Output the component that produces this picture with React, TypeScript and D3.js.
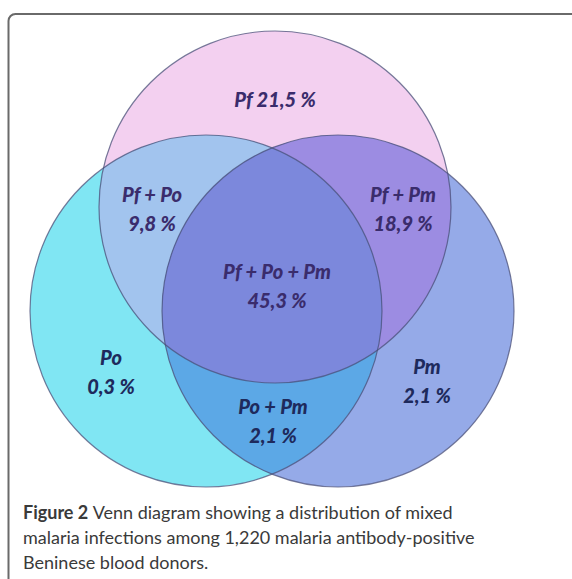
import React, { useEffect, useRef } from "react";
import * as d3 from "d3";

// Sets and regions of the Venn diagram
const setNames = ["Pf", "Po", "Pm"];
const regionSets: string[][] = [
  ["Pf"],
  ["Po"],
  ["Pm"],
  ["Pf", "Po"],
  ["Pf", "Pm"],
  ["Po", "Pm"],
  ["Pf", "Po", "Pm"],
];
const regionValues = [21.5, 0.3, 2.1, 9.8, 18.9, 2.1, 45.3];
const regionColors = [
  "#f3d0f0",
  "#80e6f3",
  "#95aae8",
  "#a2c4ee",
  "#9c8ce2",
  "#5ca8e6",
  "#7c88dc",
];
const captionLines = [
  "Venn diagram showing a distribution of mixed",
  "malaria infections among 1,220 malaria antibody-positive",
  "Beninese blood donors.",
];

// Layout (pixels)
const W = 572;
const H = 579;
const circleLayout: Record<string, { cx: number; cy: number }> = {
  Pf: { cx: 275, cy: 207 },
  Po: { cx: 206, cy: 311 },
  Pm: { cx: 338, cy: 311 },
};
const R = 176;
// label anchor (baseline of first line) for each region, same order as regionSets
const labelLayout = [
  { x: 275, y: 107, oneLine: true },
  { x: 111, y: 365 },
  { x: 427, y: 374 },
  { x: 152, y: 202 },
  { x: 403, y: 202 },
  { x: 273, y: 414 },
  { x: 277, y: 279 },
];

const fmt = (v: number) => d3.format(".1f")(v).replace(".", ",") + " %";

export default function App() {
  const svgRef = useRef<SVGSVGElement>(null);

  useEffect(() => {
    const svg = d3.select(svgRef.current).attr("width", W).attr("height", H);
    svg.selectAll("*").remove();

    svg.append("rect").attr("width", W).attr("height", H).attr("fill", "#fff");

    // frame
    svg
      .append("rect")
      .attr("x", 8.5)
      .attr("y", 14)
      .attr("width", W + 20)
      .attr("height", H + 20)
      .attr("rx", 7)
      .attr("fill", "none")
      .attr("stroke", "#6a6a6a")
      .attr("stroke-width", 2);

    const defs = svg.append("defs");
    setNames.forEach((s) => {
      defs
        .append("clipPath")
        .attr("id", `clip-${s}`)
        .append("circle")
        .attr("cx", circleLayout[s].cx)
        .attr("cy", circleLayout[s].cy)
        .attr("r", R);
    });

    // paint regions in order: singles, pairs, triple
    regionSets.forEach((sets, i) => {
      let g: d3.Selection<any, unknown, null, undefined> = svg.append("g");
      sets.slice(1).forEach((s) => {
        g = g.append("g").attr("clip-path", `url(#clip-${s})`);
      });
      const base = circleLayout[sets[0]];
      g.append("circle")
        .attr("cx", base.cx)
        .attr("cy", base.cy)
        .attr("r", R)
        .attr("fill", regionColors[i]);
    });

    // outlines
    svg
      .append("g")
      .selectAll("circle")
      .data(setNames)
      .join("circle")
      .attr("cx", (d) => circleLayout[d].cx)
      .attr("cy", (d) => circleLayout[d].cy)
      .attr("r", R)
      .attr("fill", "none")
      .attr("stroke", "#4a4f78")
      .attr("stroke-opacity", 0.75)
      .attr("stroke-width", 1.2);

    // labels
    const labels = svg
      .append("g")
      .style("font-family", "Lato, 'Open Sans', sans-serif")
      .style("font-weight", "900")
      .style("font-style", "italic")
      .style("font-size", "20px")
      .attr("text-anchor", "middle");

    regionSets.forEach((sets, i) => {
      const pos = labelLayout[i];
      const hasPf = sets.includes("Pf");
      const t = labels
        .append("text")
        .attr("x", pos.x)
        .attr("y", pos.y)
        .attr("fill", hasPf ? "#3a2c6c" : "#1e2a5c");
      if (pos.oneLine) {
        t.text(`${sets.join(" + ")} ${fmt(regionValues[i])}`);
      } else {
        t.append("tspan").attr("x", pos.x).text(sets.join(" + "));
        t.append("tspan")
          .attr("x", pos.x)
          .attr("dy", 29)
          .text(fmt(regionValues[i]));
      }
    });

    // caption
    const cap = svg
      .append("text")
      .attr("x", 23)
      .attr("y", 519)
      .attr("fill", "#3a3a3a")
      .style("font-family", "Lato, 'Open Sans', sans-serif")
      .style("font-size", "18px");
    captionLines.forEach((line, i) => {
      const ts = cap
        .append("tspan")
        .attr("x", 23)
        .attr("dy", i === 0 ? 0 : 25);
      if (i === 0) {
        ts.append("tspan").style("font-weight", "bold").text("Figure 2 ");
      }
      ts.append("tspan").text(line);
    });
  }, []);

  return (
    <svg
      ref={svgRef}
      style={{ position: "absolute", left: 0, top: 0, display: "block" }}
    />
  );
}
